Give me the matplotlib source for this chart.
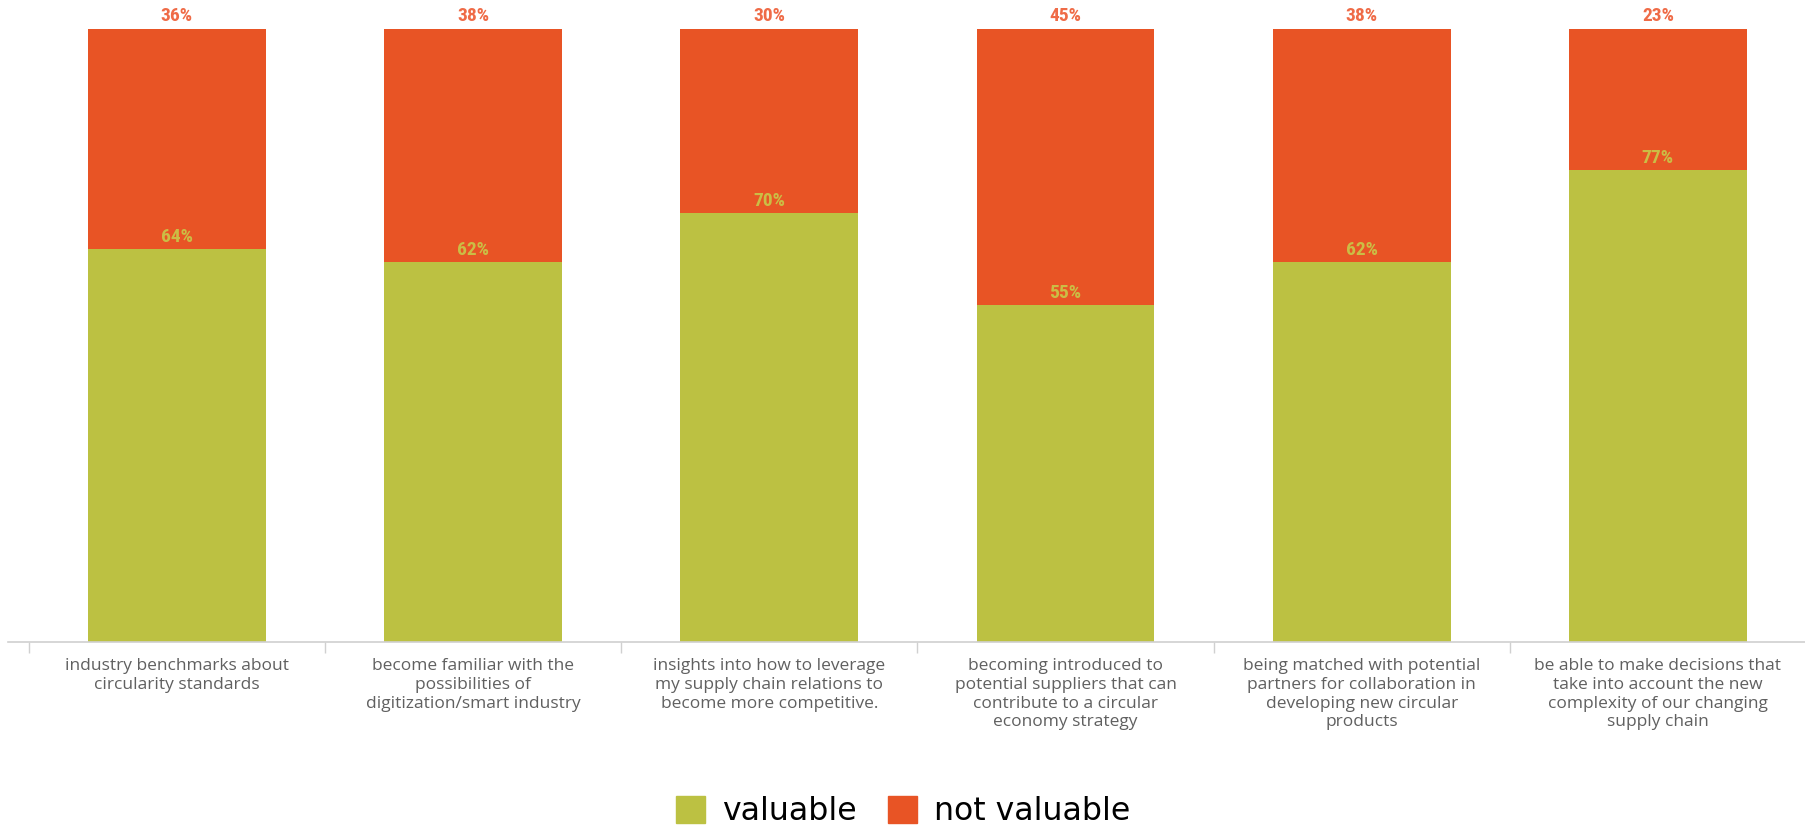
import matplotlib
matplotlib.use("Agg")
import matplotlib.pyplot as plt
from matplotlib.patches import Patch
from matplotlib import font_manager
import numpy as np

categories = [
    "industry benchmarks about\ncircularity standards",
    "become familiar with the\npossibilities of\ndigitization/smart industry",
    "insights into how to leverage\nmy supply chain relations to\nbecome more competitive.",
    "becoming introduced to\npotential suppliers that can\ncontribute to a circular\neconomy strategy",
    "being matched with potential\npartners for collaboration in\ndeveloping new circular\nproducts",
    "be able to make decisions that\ntake into account the new\ncomplexity of our changing\nsupply chain",
]
valuable = [64, 62, 70, 55, 62, 77]
not_valuable = [36, 38, 30, 45, 38, 23]
series_names = ["valuable", "not valuable"]

GREEN = "#bcc142"
ORANGE = "#e85425"
GREEN_TXT = "#cbbd45"
ORANGE_TXT = "#ef6b47"

# narrow face for the percentages if one is around
installed = {f.name for f in font_manager.fontManager.ttflist}
pct_family = "Roboto Condensed" if "Roboto Condensed" in installed else "Liberation Sans"
pct_size = 14 if pct_family == "Roboto Condensed" else 11

fig = plt.figure(figsize=(18.06, 8.25), dpi=100)
ax = fig.add_axes([8 / 1806, 183.4 / 825, 1798 / 1806, 612.8 / 825])

x = np.arange(len(categories))
v = np.array(valuable) / 100
nv = np.array(not_valuable) / 100

ax.bar(x, v, width=0.6, color=GREEN, zorder=2)
ax.bar(x, nv, width=0.6, bottom=v, color=ORANGE, zorder=2)

pct_font = dict(family=pct_family, fontweight="bold", fontsize=pct_size)
for xi, a, b in zip(x, v, nv):
    ax.annotate(f"{int(round(a * 100))}%", (xi, a), xytext=(0, 3),
                textcoords="offset pixels", ha="center", va="bottom",
                color=GREEN_TXT, **pct_font)
    ax.annotate(f"{int(round(b * 100))}%", (xi, a + b), xytext=(0, 4),
                textcoords="offset pixels", ha="center", va="bottom",
                color=ORANGE_TXT, annotation_clip=False, **pct_font)

ax.set_xlim(-0.57, len(categories) - 0.5)
ax.set_ylim(0, 1)

# boundary ticks below the baseline, labels centred under each bar
ax.set_xticks(x - 0.5)
ax.set_xticklabels([])
ax.tick_params(axis="x", which="major", length=8, width=1, color="#d0d0d0")
ax.set_xticks(x, minor=True)
ax.set_xticklabels(categories, minor=True, family=["Open Sans", "DejaVu Sans"],
                   fontsize=12.5, color="#606060", linespacing=1.22)
ax.tick_params(axis="x", which="minor", length=0, pad=12)
ax.set_yticks([])

for side in ["top", "right", "left"]:
    ax.spines[side].set_visible(False)
ax.spines["bottom"].set_color("#d0d0d0")
ax.spines["bottom"].set_linewidth(1.2)

handles = [Patch(color=GREEN), Patch(color=ORANGE)]
fig.legend(handles, series_names, loc="upper center", bbox_to_anchor=(0.5, 1 - 796 / 825),
           ncol=2, frameon=False, handlelength=0.92, handleheight=0.92,
           handletextpad=0.54, columnspacing=1.0, borderpad=0, borderaxespad=0,
           prop=dict(family="DejaVu Sans", size=22.7))

fig.savefig("out.png", dpi=100)
